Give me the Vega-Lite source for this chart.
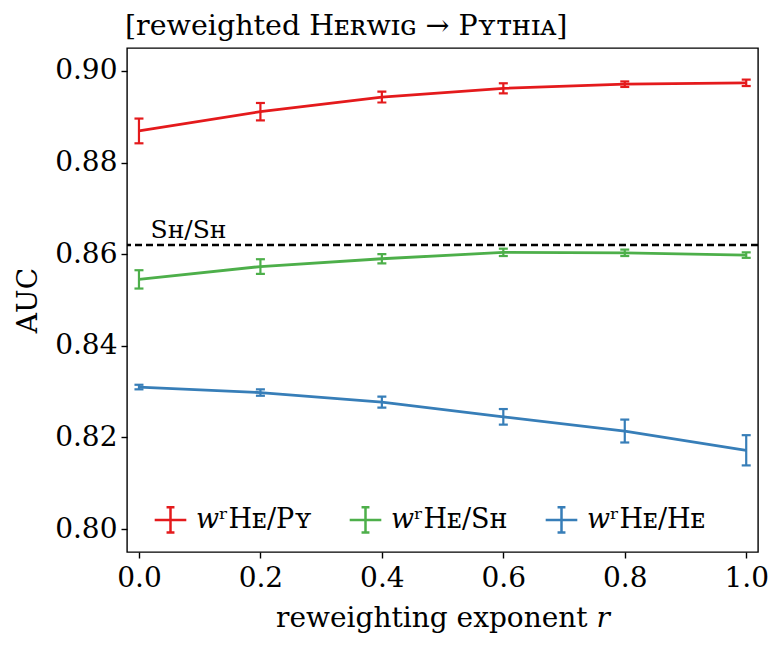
{
  "$schema": "https://vega.github.io/schema/vega-lite/v6.json",
  "description": "AUC vs reweighting exponent r, three series with error bars",
  "width": 631,
  "height": 504,
  "autosize": {"type": "none"},
  "padding": {"left": 127, "top": 48, "right": 22, "bottom": 96},
  "background": "white",
  "title": {
    "text": "[reweighted Hᴇʀᴡɪɢ → Pʏᴛʜɪᴀ]",
    "anchor": "start",
    "frame": "group",
    "orient": "top",
    "offset": 8,
    "dx": -2,
    "font": "DejaVu Serif",
    "fontSize": 28.5,
    "fontWeight": "normal",
    "color": "black"
  },
  "config": {
    "font": "DejaVu Serif",
    "view": {"stroke": "black", "strokeWidth": 1.4},
    "axis": {
      "grid": false,
      "domain": false,
      "tickColor": "black",
      "tickWidth": 1.4,
      "tickSize": 6,
      "labelFont": "DejaVu Serif",
      "labelFontSize": 28,
      "labelColor": "black",
      "titleFont": "DejaVu Serif",
      "titleFontSize": 28,
      "titleFontWeight": "normal",
      "titleColor": "black"
    }
  },
  "data": {
    "values": [
      {"series": "HePy", "r": 0.0, "auc": 0.8869, "lo": 0.8842, "hi": 0.8896},
      {"series": "HePy", "r": 0.2, "auc": 0.8911, "lo": 0.8892, "hi": 0.8930},
      {"series": "HePy", "r": 0.4, "auc": 0.8943, "lo": 0.8931, "hi": 0.8955},
      {"series": "HePy", "r": 0.6, "auc": 0.8962, "lo": 0.8951, "hi": 0.8973},
      {"series": "HePy", "r": 0.8, "auc": 0.8971, "lo": 0.8965, "hi": 0.8977},
      {"series": "HePy", "r": 1.0, "auc": 0.8974, "lo": 0.8967, "hi": 0.8981},
      {"series": "HeSh", "r": 0.0, "auc": 0.8545, "lo": 0.8525, "hi": 0.8565},
      {"series": "HeSh", "r": 0.2, "auc": 0.8573, "lo": 0.8557, "hi": 0.8589},
      {"series": "HeSh", "r": 0.4, "auc": 0.8590, "lo": 0.8580, "hi": 0.8600},
      {"series": "HeSh", "r": 0.6, "auc": 0.8604, "lo": 0.8596, "hi": 0.8612},
      {"series": "HeSh", "r": 0.8, "auc": 0.8603, "lo": 0.8596, "hi": 0.8610},
      {"series": "HeSh", "r": 1.0, "auc": 0.8598, "lo": 0.8592, "hi": 0.8604},
      {"series": "HeHe", "r": 0.0, "auc": 0.8310, "lo": 0.8305, "hi": 0.8315},
      {"series": "HeHe", "r": 0.2, "auc": 0.8298, "lo": 0.8291, "hi": 0.8305},
      {"series": "HeHe", "r": 0.4, "auc": 0.8277, "lo": 0.8265, "hi": 0.8289},
      {"series": "HeHe", "r": 0.6, "auc": 0.8245, "lo": 0.8228, "hi": 0.8262},
      {"series": "HeHe", "r": 0.8, "auc": 0.8214, "lo": 0.8189, "hi": 0.8239},
      {"series": "HeHe", "r": 1.0, "auc": 0.8172, "lo": 0.8139, "hi": 0.8205}
    ]
  },
  "layer": [
    {
      "data": {"values": [{"auc": 0.862}]},
      "mark": {"type": "rule", "color": "black", "strokeWidth": 2.5, "strokeDash": [7, 4]},
      "encoding": {
        "y": {"field": "auc", "type": "quantitative", "scale": {"domain": [0.795, 0.905], "nice": false, "zero": false}}
      }
    },
    {
      "data": {"values": [{"r": 0.019, "auc": 0.8636, "label": "Sʜ/Sʜ"}]},
      "mark": {"type": "text", "align": "left", "baseline": "alphabetic", "fontSize": 25, "font": "DejaVu Serif", "color": "black"},
      "encoding": {
        "x": {"field": "r", "type": "quantitative"},
        "y": {"field": "auc", "type": "quantitative"},
        "text": {"field": "label"}
      }
    },
    {
      "mark": {"type": "rule", "strokeWidth": 2.2},
      "encoding": {
        "x": {"field": "r", "type": "quantitative"},
        "y": {"field": "lo", "type": "quantitative"},
        "y2": {"field": "hi"},
        "color": {"field": "series", "type": "nominal"}
      }
    },
    {
      "mark": {"type": "tick", "orient": "horizontal", "size": 9, "thickness": 2.2, "opacity": 1},
      "encoding": {
        "x": {"field": "r", "type": "quantitative"},
        "y": {"field": "lo", "type": "quantitative"},
        "color": {"field": "series", "type": "nominal"}
      }
    },
    {
      "mark": {"type": "tick", "orient": "horizontal", "size": 9, "thickness": 2.2, "opacity": 1},
      "encoding": {
        "x": {"field": "r", "type": "quantitative"},
        "y": {"field": "hi", "type": "quantitative"},
        "color": {"field": "series", "type": "nominal"}
      }
    },
    {
      "mark": {"type": "line", "strokeWidth": 2.8},
      "encoding": {
        "x": {
          "field": "r",
          "type": "quantitative",
          "title": "reweighting exponent 𝑟",
          "scale": {"domain": [-0.0197, 1.0194], "nice": false, "zero": false},
          "axis": {"values": [0, 0.2, 0.4, 0.6, 0.8, 1.0], "format": ".1f", "labelPadding": 6, "titlePadding": 12}
        },
        "y": {
          "field": "auc",
          "type": "quantitative",
          "title": "AUC",
          "axis": {"values": [0.80, 0.82, 0.84, 0.86, 0.88, 0.90], "format": ".2f", "labelPadding": 4, "titlePadding": 12}
        },
        "color": {
          "field": "series",
          "type": "nominal",
          "scale": {"domain": ["HePy", "HeSh", "HeHe"], "range": ["#e41a1c", "#4daf4a", "#377eb8"]},
          "legend": {
            "orient": "none",
            "legendX": 26,
            "legendY": 454,
            "direction": "horizontal",
            "columns": 3,
            "title": null,
            "labelExpr": "datum.value == 'HePy' ? '𝑤ʳHᴇ/Pʏ' : datum.value == 'HeSh' ? '𝑤ʳHᴇ/Sʜ' : '𝑤ʳHᴇ/Hᴇ'",
            "labelFont": "DejaVu Serif",
            "labelFontSize": 27,
            "labelColor": "black",
            "symbolType": "M-1,0H1M0,-0.8V0.8M-0.25,-0.8H0.25M-0.25,0.8H0.25",
            "symbolSize": 1000,
            "symbolStrokeWidth": 2.5,
            "symbolOpacity": 1,
            "symbolFillColor": "transparent",
            "columnPadding": 32,
            "labelOffset": 8
          }
        }
      }
    }
  ]
}
